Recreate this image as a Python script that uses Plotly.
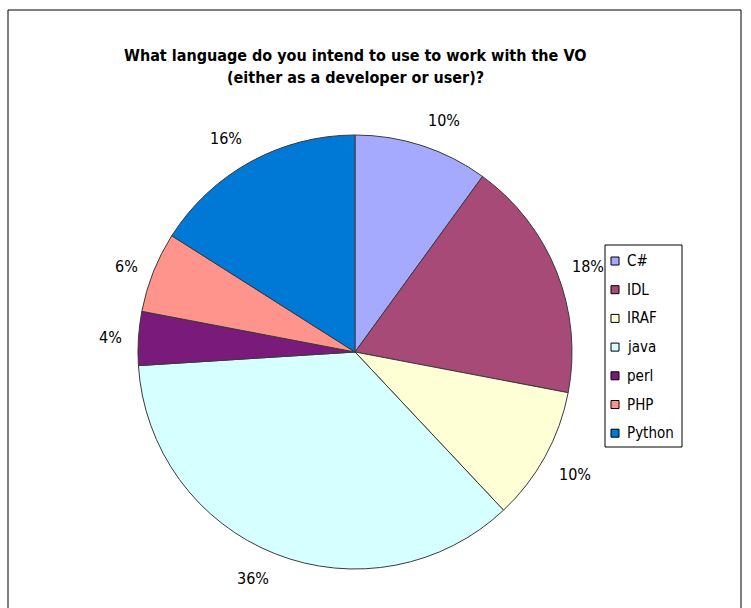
import math
import plotly.graph_objects as go

# ---- data ----
languages = ["C#", "IDL", "IRAF", "java", "perl", "PHP", "Python"]
shares = [10, 18, 10, 36, 4, 6, 16]
colors = ["#A6AAFF", "#A84A78", "#FFFFD6", "#D6FFFF", "#7A1A7A", "#FF948C", "#0078D6"]
title_lines = ["What language do you intend to use to work with the VO",
               "(either as a developer or user)?"]

W, H = 751, 608
FONT = "DejaVu Sans Condensed, DejaVu Sans, sans-serif"

def px(x):
    return x / W

def py(y):
    return 1 - y / H

cx, cy, R = 355, 352, 217

fig = go.Figure(go.Pie(
    labels=languages,
    values=shares,
    sort=False,
    direction="clockwise",
    rotation=0,
    marker=dict(colors=colors, line=dict(color="#3a3a3a", width=1)),
    textinfo="none",
    hoverinfo="label+percent",
    showlegend=False,
    domain=dict(x=[px(cx - R), px(cx + R)], y=[py(cy + R), py(cy - R)]),
))

annotations = []
# percentage labels outside slices, anchored next to the mid-angle point
total = sum(shares)
cum = 0
for v in shares:
    mid = (cum + v / 2) / total * 2 * math.pi
    cum += v
    s, c = math.sin(mid), math.cos(mid)
    rl = R + 15
    lx = cx + rl * s
    ly = cy - rl * c
    xa = "left" if s > 0.3 else ("right" if s < -0.3 else "center")
    ya = "bottom" if c > 0.45 else ("top" if c < -0.45 else "middle")
    annotations.append(dict(
        x=px(lx), y=py(ly), xref="paper", yref="paper",
        text=f"{round(v / total * 100)}%", showarrow=False,
        xanchor=xa, yanchor=ya, borderpad=0,
        font=dict(family=FONT, size=16, color="#000"),
    ))

# title
for i, t in enumerate(title_lines):
    annotations.append(dict(
        x=px(355), y=py(55 + 23 * i), xref="paper", yref="paper",
        text=f"<b>{t}</b>", showarrow=False,
        xanchor="center", yanchor="middle",
        font=dict(family=FONT, size=16, color="#000"),
    ))

shapes = [
    # outer chart frame
    dict(type="rect", xref="paper", yref="paper",
         x0=px(8), x1=px(741), y0=py(10), y1=py(640),
         line=dict(color="#000", width=1), fillcolor="rgba(0,0,0,0)"),
    # legend frame
    dict(type="rect", xref="paper", yref="paper",
         x0=px(605), x1=px(682), y0=py(245), y1=py(447),
         line=dict(color="#000", width=1), fillcolor="#fff"),
]

# custom legend
step = 28.7
for i, (lab, col) in enumerate(zip(languages, colors)):
    yc = 261 + step * i
    shapes.append(dict(type="rect", xref="paper", yref="paper",
                       x0=px(611), x1=px(619), y0=py(yc - 4), y1=py(yc + 4),
                       line=dict(color="#000", width=1), fillcolor=col))
    annotations.append(dict(
        x=px(625), y=py(yc), xref="paper", yref="paper",
        text=lab, showarrow=False, xanchor="left", yanchor="middle",
        font=dict(family=FONT, size=15, color="#000"),
    ))

fig.update_layout(
    width=W, height=H,
    margin=dict(l=0, r=0, t=0, b=0),
    paper_bgcolor="#fff",
    plot_bgcolor="#fff",
    shapes=shapes,
    annotations=annotations,
    showlegend=False,
)

fig.write_html("out.html")
